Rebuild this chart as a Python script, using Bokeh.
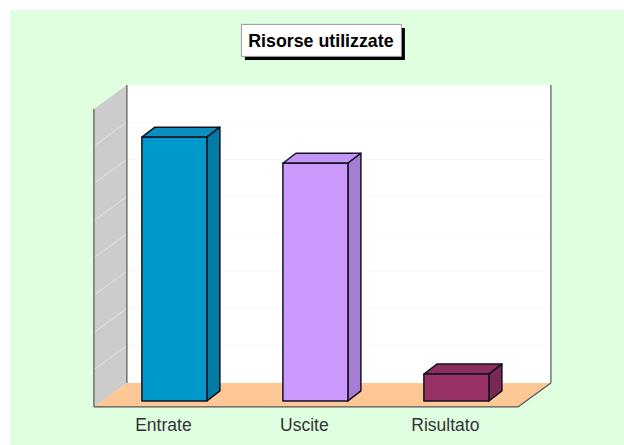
from bokeh.plotting import figure
from bokeh.models import FixedTicker, LinearAxis
from bokeh.embed import file_html
from bokeh.resources import INLINE

# ---- data -------------------------------------------------------------
categories = ["Entrate", "Uscite", "Risultato"]
values = [7.08, 6.38, 0.72]
front_colors = ["#0099cc", "#cc99ff", "#993366"]
side_colors = ["#007ba5", "#a57dd2", "#7a2a52"]
top_colors = ["#0b8fbf", "#c495f5", "#8c2f5e"]
grid_levels = [1, 2, 3, 4, 5, 6, 7]
title_text = "Risorse utilizzate"

# ---- layout (page pixels) ---------------------------------------------
BG = "#e0ffe0"
WIDTH, HEIGHT = 624, 445
UNIT = 37.25          # pixels per value unit
BACK_Y = 383          # page y of value 0 on the back wall
FRAME_TOP, FRAME_BOTTOM = 0, 408
WALL_TOP_VALUE = 8
DX, DY = 33, 24       # projection of the floor depth
BAR_X0, BAR_STEP, BAR_W = 142, 141, 65
BAR_DX, BAR_DY = 13, 10
NUDGE = 0.6


def vy(page_y):
    return (BACK_Y - page_y) / UNIT


p = figure(
    width=WIDTH, height=HEIGHT, output_backend="svg", toolbar_location=None,
    x_range=(NUDGE, WIDTH + NUDGE),
    y_range=(vy(FRAME_BOTTOM + NUDGE), vy(FRAME_TOP + NUDGE)),
    min_border_left=0, min_border_right=0, min_border_top=0,
    min_border_bottom=HEIGHT - FRAME_BOTTOM,
    x_axis_type=None, y_axis_type=None,
)
p.outline_line_color = None
p.background_fill_alpha = 0
p.border_fill_alpha = 0
p.grid.visible = False
p.stylesheets = [
    ":host{background:linear-gradient(to right,#fff 10px,transparent 10px),"
    f"linear-gradient(#fff 10px,{BG} 10px);}}"
]

# walls and floor
left, right = 127, 551
dy = DY / UNIT
p.patch([left, right, right, left], [0, 0, WALL_TOP_VALUE, WALL_TOP_VALUE],
        fill_color="#ffffff", line_color=None)
p.patch([left - DX, left, left, left - DX],
        [-dy, 0, WALL_TOP_VALUE, WALL_TOP_VALUE - dy],
        fill_color="#cccccc", line_color=None)
p.patch([left - DX, right - DX, right, left], [-dy, -dy, 0, 0],
        fill_color="#fdc895", line_color=None)

# grid lines
for g in grid_levels:
    p.line([left, right], [g, g], line_color="#eefdee", line_width=1)
    p.line([left - DX, left], [g - dy, g], line_color="#e4e4e4", line_width=1)

# wall outlines
edge = "#555555"
p.line([left, left], [0, WALL_TOP_VALUE], line_color=edge, line_width=1.2)
p.line([right, right], [0, WALL_TOP_VALUE], line_color=edge, line_width=1.2)
p.line([left - DX, left - DX], [-dy, WALL_TOP_VALUE - dy], line_color=edge, line_width=1.2)
p.line([left - DX, right - DX, right], [-dy, -dy, 0], line_color=edge, line_width=1.2)

# bars
base = vy(401)
bdx, bdy = BAR_DX, BAR_DY / UNIT
for i, v in enumerate(values):
    x0 = BAR_X0 + i * BAR_STEP
    x1 = x0 + BAR_W
    top = base + v
    kw = dict(line_color="#111122", line_width=1.5, line_join="round")
    p.patch([x0, x1, x1 + bdx, x0 + bdx], [top, top, top + bdy, top + bdy],
            fill_color=top_colors[i], **kw)
    p.patch([x1, x1 + bdx, x1 + bdx, x1], [base, base + bdy, top + bdy, top],
            fill_color=side_colors[i], **kw)
    p.patch([x0, x1, x1, x0], [base, base, top, top],
            fill_color=front_colors[i], **kw)

# title box
p.quad(left=245, right=405, top=vy(28), bottom=vy(60), fill_color="#000000", line_color=None)
p.quad(left=241.5, right=401.5, top=vy(24.5), bottom=vy(56.5), fill_color="#ffffff",
       line_color="#999999", line_width=1)
p.text(x=[321], y=[vy(41)], text=[title_text], text_align="center", text_baseline="middle",
       text_font_size="17.8px", text_font_style="bold", text_color="#000000",
       text_font={"value": "Liberation Sans"})

# category axis
ticks = [BAR_X0 + i * BAR_STEP + BAR_W / 2 - 11 for i in range(len(categories))]
axis = LinearAxis(
    ticker=FixedTicker(ticks=ticks),
    major_label_overrides={t: c for t, c in zip(ticks, categories)},
    major_tick_line_color=None, minor_tick_line_color=None, axis_line_color=None,
    major_label_text_font="Liberation Sans", major_label_text_font_size="17.5px",
    major_label_text_color="#333333", major_label_standoff=0,
)
p.add_layout(axis, "below")

open("out.html", "w").write(file_html(p, INLINE))
